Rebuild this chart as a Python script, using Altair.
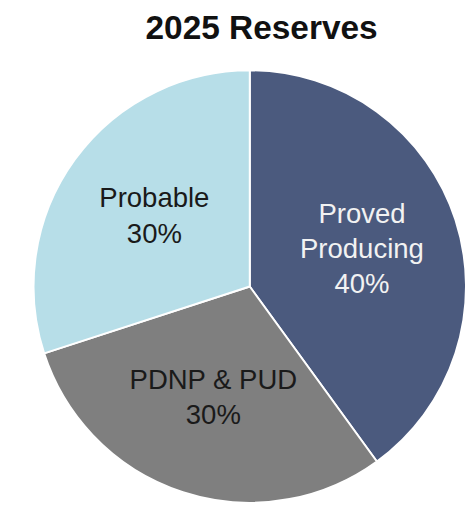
import altair as alt
import pandas as pd

categories = ["Proved Producing", "PDNP & PUD", "Probable"]
values = [40, 30, 30]
label_texts = ["Proved\nProducing\n40%", "PDNP & PUD\n30%", "Probable\n30%"]
line_counts = [3, 2, 2]
slice_colors = ["#4b5a7e", "#7f7f7f", "#b7dee8"]
text_colors = ["#f2f2f2", "#1a1a1a", "#1a1a1a"]

df = pd.DataFrame({
    "category": categories,
    "value": values,
    "label": label_texts,
    "lines": line_counts,
    "order": list(range(len(categories))),
    "tcolor": text_colors,
})

cx, cy, R = 246, 279, 220
LH = 36

base = alt.Chart(df).encode(
    theta=alt.Theta("value:Q", stack=True),
    order=alt.Order("order:Q"),
)

arcs = base.mark_arc(stroke="white", strokeWidth=2).encode(
    x=alt.value(cx), y=alt.value(cy),
    radius=alt.value(R),
    color=alt.Color("category:N", scale=alt.Scale(domain=categories, range=slice_colors), legend=None),
)

def label_layer(n):
    return base.mark_text(
        font="Liberation Sans", fontSize=28, lineBreak="\n", lineHeight=LH,
        align="center", baseline="middle", dy=-(n - 1) * LH / 2,
    ).encode(
        x=alt.value(cx), y=alt.value(cy),
        radius=alt.value(120),
        text="label:N",
        color=alt.Color("tcolor:N", scale=None),
        opacity=alt.condition(alt.datum.lines == n, alt.value(1), alt.value(0)),
    )

title = alt.Chart(pd.DataFrame({"t": ["2025 Reserves"]})).mark_text(
    font="Liberation Sans", fontSize=34, fontWeight="bold", color="#111111",
    align="center", baseline="alphabetic",
).encode(x=alt.value(258), y=alt.value(27), text="t:N")

chart = alt.layer(arcs, label_layer(3), label_layer(2), title).properties(
    width=466, height=505,
    autosize=alt.AutoSizeParams(type="none"),
    padding=0,
).configure_view(stroke=None)

chart.save("out.html", embed_options={"renderer": "svg", "actions": False})
